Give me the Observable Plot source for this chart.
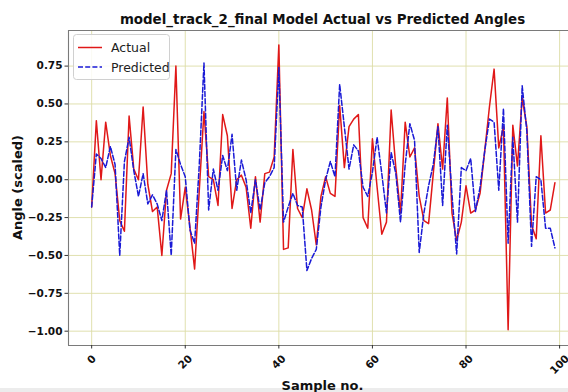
<!DOCTYPE html>
<html>
<head>
<meta charset="utf-8">
<script src="https://cdn.jsdelivr.net/npm/d3@7"></script>
<script src="https://cdn.jsdelivr.net/npm/@observablehq/plot@0.6"></script>
<style>
  html, body { margin: 0; padding: 0; background: white; }
  #chart { width: 568px; height: 392px; }
</style>
</head>
<body>
<div id="chart"></div>
<script>
// ---- data ----
const title = "model_track_2_final Model Actual vs Predicted Angles";
const xLabel = "Sample no.";
const yLabel = "Angle (scaled)";
const seriesNames = ["Actual", "Predicted"];

const actual = [
  -0.18, 0.39, 0.00, 0.38, 0.16, 0.04, -0.27, -0.34, 0.42, 0.07,
  0.00, 0.48, -0.03, -0.21, -0.18, -0.50, -0.07, 0.04, 0.75, -0.26,
  -0.05, -0.31, -0.59, -0.07, 0.45, 0.02, 0.00, -0.17, 0.43, 0.29,
  -0.19, 0.00, 0.03, -0.05, -0.32, 0.02, -0.28, 0.04, 0.05, 0.15,
  0.89, -0.46, -0.45, 0.20, -0.19, -0.25, -0.06, -0.20, -0.43, -0.11,
  0.02, -0.09, -0.11, 0.49, 0.08, 0.35, 0.40, 0.43, -0.25, -0.32,
  0.27, -0.05, -0.36, -0.28, 0.46, 0.08, -0.22, 0.38, 0.15, 0.21,
  -0.11, -0.27, -0.29, 0.04, 0.37, 0.07, 0.54, -0.22, -0.40, -0.28,
  -0.04, -0.22, -0.20, -0.09, 0.19, 0.48, 0.73, 0.21, 0.35, -0.99,
  0.36, 0.09, 0.54, 0.35, -0.30, -0.39, 0.29, -0.22, -0.20, -0.02
];

const predicted = [
  -0.18, 0.17, 0.14, 0.08, 0.22, 0.10, -0.50, 0.12, 0.28, 0.06,
  -0.11, 0.04, -0.16, -0.10, -0.16, -0.27, -0.07, -0.50, 0.20, 0.10,
  0.02, -0.33, -0.42, 0.10, 0.77, -0.20, 0.07, -0.07, 0.16, 0.06,
  0.30, -0.07, 0.13, 0.00, -0.22, 0.00, -0.20, -0.02, 0.02, 0.08,
  0.74, -0.28, -0.18, -0.09, -0.17, -0.18, -0.60, -0.52, -0.46, -0.18,
  0.00, 0.12, 0.02, 0.63, 0.35, 0.07, 0.23, 0.19, -0.05, -0.11,
  0.05, 0.28, 0.04, -0.22, 0.18, 0.04, -0.28, 0.10, 0.37, 0.26,
  -0.48, -0.22, -0.04, 0.10, 0.35, -0.17, 0.36, -0.10, -0.49, 0.08,
  0.06, 0.14, -0.21, -0.05, 0.19, 0.40, 0.38, -0.07, 0.47, -0.42,
  0.28, -0.28, 0.62, 0.32, -0.44, 0.02, 0.00, -0.32, -0.32, -0.45
];

const xTicks = [0, 20, 40, 60, 80, 100];
const yTicks = [-1.00, -0.75, -0.50, -0.25, 0.00, 0.25, 0.50, 0.75];

// ---- build table ----
const rows = [];
actual.forEach((v, i) => rows.push({sample: i, value: v, series: seriesNames[0]}));
predicted.forEach((v, i) => rows.push({sample: i, value: v, series: seriesNames[1]}));

const xDomain = [-4.95, 101.9];
const yDomain = [-1.0945, 0.985];

const gridColor = "#dcdca6";
const spineColor = "#7a7a7a";
const redC = "#e01818";
const blueC = "#1a1ad6";
const font = "DejaVu Sans";
const tickFs = 10.5;
const dash = "5,2.2";

const fmt = d => d3.format(".2f")(d).replace("-", "\u2212");

const xLabelMarks = xTicks.map(t => {
  const n = String(t).length;
  const dy = 7 + (n * 0.696 * tickFs + 1.17 * tickFs) * 0.3535;
  return Plot.text([t], {
    x: d => d, frameAnchor: "bottom", dy: dy, rotate: -45,
    text: d => String(d), textAnchor: "middle", lineAnchor: "middle",
    fontSize: tickFs, fontWeight: "bold", fill: "#111"
  });
});

const chart = Plot.plot({
  width: 568,
  height: 392,
  marginLeft: 68,
  marginRight: 0,
  marginTop: 30,
  marginBottom: 47,
  style: {fontFamily: font, background: "white", overflow: "visible"},
  x: {domain: xDomain},
  y: {domain: yDomain},
  marks: [
    Plot.gridX(xTicks, {stroke: gridColor, strokeOpacity: 1, strokeWidth: 0.9}),
    Plot.gridY(yTicks, {stroke: gridColor, strokeOpacity: 1, strokeWidth: 0.9}),
    Plot.ruleX([xDomain[0]], {stroke: spineColor, strokeWidth: 1.1}),
    Plot.ruleY([yDomain[0]], {stroke: spineColor, strokeWidth: 1.1}),
    Plot.ruleY([yDomain[1]], {stroke: spineColor, strokeWidth: 1.1}),
    Plot.axisY(yTicks, {
      tickSize: 3.5, tickPadding: 2.5, tickFormat: fmt,
      fontSize: tickFs, fontWeight: "bold", fill: "#111", stroke: "#333",
      label: null
    }),
    Plot.axisX(xTicks, {tickSize: 3.5, tickFormat: () => "", stroke: "#333", label: null}),
    ...xLabelMarks,
    Plot.line(rows.filter(d => d.series === seriesNames[0]), {
      x: "sample", y: "value", stroke: redC, strokeWidth: 1.5
    }),
    Plot.line(rows.filter(d => d.series === seriesNames[1]), {
      x: "sample", y: "value", stroke: blueC, strokeWidth: 1.5, strokeDasharray: dash
    })
  ]
});

document.getElementById("chart").appendChild(chart);

// ---- titles, labels, legend (annotations) ----
const svg = d3.select(chart);
const W = 568, H = 392;
const plotLeft = 68, plotRight = 577, plotTop = 30, plotBottom = 345;

svg.insert("rect", ":first-child").attr("x", 0).attr("y", 388).attr("width", W).attr("height", 4).attr("fill", "#ececec");

svg.append("text")
  .attr("x", (plotLeft + plotRight) / 2).attr("y", 24)
  .attr("text-anchor", "middle")
  .attr("font-family", font).attr("font-weight", "bold").attr("font-size", 13.4)
  .attr("fill", "#111").text(title);

svg.append("text")
  .attr("transform", `translate(22,${(plotTop + plotBottom) / 2}) rotate(-90)`)
  .attr("text-anchor", "middle")
  .attr("font-family", font).attr("font-weight", "bold").attr("font-size", 13)
  .attr("fill", "#111").text(yLabel);

svg.append("text")
  .attr("x", (plotLeft + plotRight) / 2).attr("y", 390)
  .attr("text-anchor", "middle")
  .attr("font-family", font).attr("font-weight", "bold").attr("font-size", 13)
  .attr("fill", "#111").text(xLabel);

const lg = svg.append("g");
lg.append("rect").attr("x", 73.5).attr("y", 34.5).attr("width", 96).attr("height", 45)
  .attr("rx", 3).attr("fill", "white").attr("fill-opacity", 0.85)
  .attr("stroke", "#d0d0d0").attr("stroke-width", 1);
const legendItems = [
  {name: seriesNames[0], color: redC, dash: null, y: 47.5},
  {name: seriesNames[1], color: blueC, dash: dash, y: 67}
];
legendItems.forEach(it => {
  const l = lg.append("line").attr("x1", 78).attr("x2", 102).attr("y1", it.y).attr("y2", it.y)
    .attr("stroke", it.color).attr("stroke-width", 1.5);
  if (it.dash) l.attr("stroke-dasharray", it.dash);
  lg.append("text").attr("x", 111).attr("y", it.y + 4.5)
    .attr("text-anchor", "start")
    .attr("font-family", font).attr("font-size", 12.5).attr("fill", "#222").text(it.name);
});
</script>
</body>
</html>
